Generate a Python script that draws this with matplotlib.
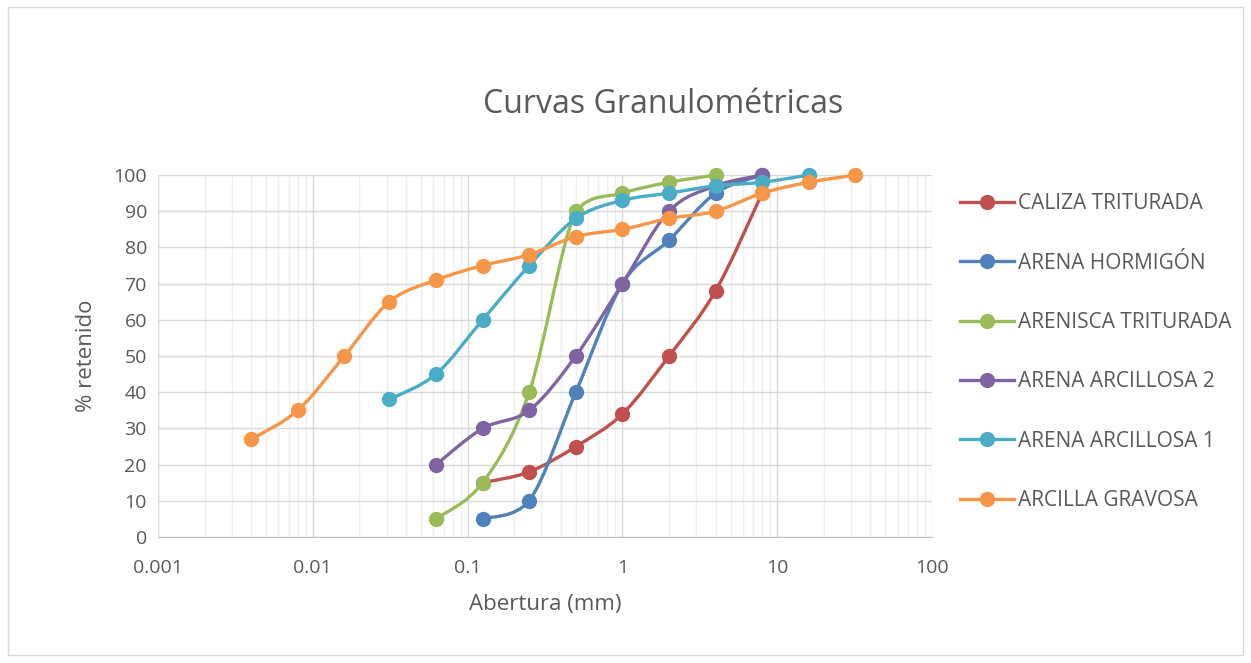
import numpy as np
import matplotlib
matplotlib.use("Agg")
import matplotlib.pyplot as plt
from matplotlib.path import Path
from matplotlib.patches import PathPatch, Rectangle
from matplotlib.lines import Line2D
from matplotlib.ticker import FixedLocator, FuncFormatter, LogLocator, NullFormatter

plt.rcParams['font.family'] = ['Open Sans', 'DejaVu Sans']

# tamices (mm) y % retenido de cada muestra
caliza_x = [0.125, 0.25, 0.5, 1, 2, 4, 8]
caliza_y = [15, 18, 25, 34, 50, 68, 95]

hormigon_x = [0.125, 0.25, 0.5, 1, 2, 4, 8]
hormigon_y = [5, 10, 40, 70, 82, 95, 100]

arenisca_x = [0.0625, 0.125, 0.25, 0.5, 1, 2, 4]
arenisca_y = [5, 15, 40, 90, 95, 98, 100]

arcillosa2_x = [0.0625, 0.125, 0.25, 0.5, 1, 2, 4, 8]
arcillosa2_y = [20, 30, 35, 50, 70, 90, 97, 100]

arcillosa1_x = [0.03125, 0.0625, 0.125, 0.25, 0.5, 1, 2, 4, 8, 16]
arcillosa1_y = [38, 45, 60, 75, 88, 93, 95, 97, 98, 100]

gravosa_x = [0.004, 0.008, 0.016, 0.03125, 0.0625, 0.125, 0.25, 0.5, 1, 2, 4, 8, 16, 32]
gravosa_y = [27, 35, 50, 65, 71, 75, 78, 83, 85, 88, 90, 95, 98, 100]

series = [
    ("CALIZA TRITURADA", caliza_x, caliza_y, "#C0504D"),
    ("ARENA HORMIGÓN", hormigon_x, hormigon_y, "#4F81BD"),
    ("ARENISCA TRITURADA", arenisca_x, arenisca_y, "#9BBB59"),
    ("ARENA ARCILLOSA 2", arcillosa2_x, arcillosa2_y, "#8064A2"),
    ("ARENA ARCILLOSA 1", arcillosa1_x, arcillosa1_y, "#4BACC6"),
    ("ARCILLA GRAVOSA", gravosa_x, gravosa_y, "#F79646"),
]

x_ticks = [0.001, 0.01, 0.1, 1, 10, 100]
y_ticks = list(range(0, 101, 10))

txt = "#595959"


def smooth_path(xs, ys):
    # curva suavizada (bezier cubica tipo Catmull-Rom) en espacio log-x,
    # con los puntos de control limitados al rango de cada tramo
    lx = np.log10(xs)
    ys = np.asarray(ys, dtype=float)
    n = len(lx)
    verts = [(xs[0], ys[0])]
    codes = [Path.MOVETO]
    for i in range(n - 1):
        p0 = (lx[max(i - 1, 0)], ys[max(i - 1, 0)])
        p1 = (lx[i], ys[i])
        p2 = (lx[i + 1], ys[i + 1])
        p3 = (lx[min(i + 2, n - 1)], ys[min(i + 2, n - 1)])
        lo, hi = min(p1[1], p2[1]), max(p1[1], p2[1])
        c1 = (p1[0] + (p2[0] - p0[0]) / 6, np.clip(p1[1] + (p2[1] - p0[1]) / 6, lo, hi))
        c2 = (p2[0] - (p3[0] - p1[0]) / 6, np.clip(p2[1] - (p3[1] - p1[1]) / 6, lo, hi))
        for c in (c1, c2, p2):
            verts.append((10 ** c[0], c[1]))
        codes += [Path.CURVE4] * 3
    return Path(verts, codes)


fig = plt.figure(figsize=(12.51, 6.63), dpi=100)
fig.patches.append(Rectangle((0.006, 0.012), 0.988, 0.978, transform=fig.transFigure,
                             fill=False, edgecolor="#d9d9d9", linewidth=1))
ax = fig.add_axes([0.1263, 0.19, 0.6187, 0.546])
ax.set_xscale('log')
ax.set_xlim(0.001, 100)
ax.set_ylim(0, 100)

handles = []
for k, (name, xs, ys, col) in enumerate(series):
    ax.add_patch(PathPatch(smooth_path(xs, ys), facecolor='none', edgecolor=col,
                           linewidth=2.4, zorder=3 + k, capstyle='round', clip_on=False))
    ax.plot(xs, ys, 'o', color=col, markersize=10, zorder=3 + k, clip_on=False)
    handles.append(Line2D([], [], color=col, linewidth=2.4, marker='o', markersize=10))

ax.xaxis.set_major_locator(FixedLocator(x_ticks))
ax.xaxis.set_major_formatter(FuncFormatter(lambda v, p: f"{v:g}"))
ax.xaxis.set_minor_locator(LogLocator(base=10, subs=np.arange(2, 10), numticks=20))
ax.xaxis.set_minor_formatter(NullFormatter())
ax.set_yticks(y_ticks)

ax.grid(True, which='major', color="#d9d9d9", linewidth=1)
ax.grid(True, which='minor', axis='x', color="#efefef", linewidth=1)
ax.set_axisbelow(True)
for s in ('top', 'right', 'left'):
    ax.spines[s].set_visible(False)
ax.spines['bottom'].set_color("#bfbfbf")
ax.tick_params(which='both', length=0, colors=txt, labelsize=14)
ax.tick_params(axis='x', pad=16)
ax.tick_params(axis='y', pad=8)

ax.set_xlabel("Abertura (mm)", fontsize=16, color=txt, labelpad=12)
ax.set_ylabel("% retenido", fontsize=16, color=txt, labelpad=12)
fig.text(0.53, 0.843, "Curvas Granulométricas", fontsize=23, color=txt, ha='center', va='center')

fig.legend(handles, [s[0] for s in series], loc='center left',
           bbox_to_anchor=(0.752, 0.469), frameon=False, fontsize=15,
           labelcolor=txt, handlelength=2.6, handletextpad=0.2, labelspacing=1.84)

fig.savefig("out.png", dpi=100)
